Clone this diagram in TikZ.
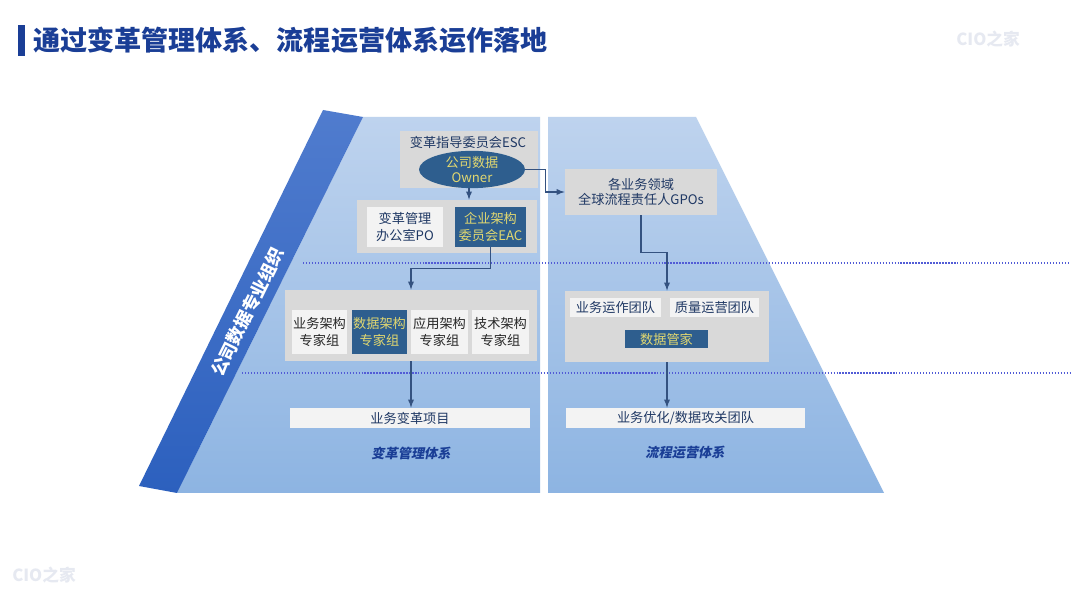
\documentclass[tikz,border=0pt]{standalone}
\usepackage{fontspec}
\setmainfont{Noto Sans CJK SC}
\newfontfamily\slantcjk[FakeSlant=0.2]{Noto Sans CJK SC}
\usepackage{xcolor}
\usepackage{tikz}
\usetikzlibrary{shapes.geometric}

\definecolor{titleblue}{RGB}{26,62,150}
\definecolor{markgray}{RGB}{230,233,241}
\definecolor{pyrtop}{RGB}{190,211,238}
\definecolor{pyrbottom}{RGB}{141,180,226}
\definecolor{bandtop}{RGB}{80,124,206}
\definecolor{bandbottom}{RGB}{44,96,190}
\definecolor{boxgray}{RGB}{217,217,217}
\definecolor{paleBox}{RGB}{243,243,243}
\definecolor{darkBox}{RGB}{46,94,142}
\definecolor{paleYellow}{RGB}{226,216,112}
\definecolor{textblue}{RGB}{31,56,100}
\definecolor{textgray}{RGB}{38,38,38}
\definecolor{lineblue}{RGB}{52,82,128}
\definecolor{dotblue}{RGB}{82,92,214}

\begin{document}
\begin{tikzpicture}
				\tikzstyle{graybox}=[fill=boxgray, inner sep=0pt]
				\tikzstyle{whitebox}=[fill=paleBox, text=textblue, inner sep=0pt, align=center, font=\fontsize{7.5}{9.5}\selectfont]
				\tikzstyle{expertbox}=[whitebox, text=textgray]
				\tikzstyle{darkbox}=[fill=darkBox, text=paleYellow, inner sep=0pt, align=center, font=\fontsize{7.5}{9.5}\selectfont]
				\tikzstyle{systemname}=[text=titleblue, font=\slantcjk\bfseries\fontsize{7.5}{9}\selectfont]
				\tikzstyle{watermark}=[text=markgray, font=\bfseries\fontsize{9.5}{11}\selectfont]
				\tikzstyle{divider}=[dotblue, densely dotted, line width=0.7pt]
				\tikzset{edge/.style = {->,> = latex, draw=lineblue, line width=0.6pt}}
				
				% page
				\fill[white] (0,0) rectangle (21.6,12.16);
				\useasboundingbox (0,0) rectangle (21.6,12.16);
				
				% title
				\fill[titleblue] (0.36,11.04) rectangle (0.50,11.66);
				\node[anchor=west, inner sep=0pt, text=titleblue, font=\bfseries\fontsize{15.4}{18}\selectfont](title) at (0.66,11.36) {通过变革管理体系、流程运营体系运作落地};
				\node[watermark](mark1) at (19.76,11.38) {CIO之家};
				\node[watermark](mark2) at (0.88,0.66) {CIO之家};
				
				% pyramid halves + band
				\shade[top color=pyrtop, bottom color=pyrbottom] (7.26,9.82) -- (10.80,9.82) -- (10.80,2.30) -- (3.54,2.30) -- cycle;
				\shade[top color=pyrtop, bottom color=pyrbottom] (10.96,9.82) -- (13.92,9.82) -- (17.68,2.30) -- (10.96,2.30) -- cycle;
				\shade[top color=bandtop, bottom color=bandbottom] (6.46,9.96) -- (7.26,9.82) -- (3.54,2.30) -- (2.78,2.44) -- cycle;
				\node[rotate=63.7, text=white, font=\bfseries\fontsize{10}{12}\selectfont](org) at (4.95,5.92) {公司数据专业组织};
				
				% dividers
				\draw[divider] (6.06,6.90) -- (21.36,6.90);
				\draw[divider] (4.84,4.70) -- (21.44,4.70);
				
				% change management side
				\node[graybox, minimum width=2.76cm, minimum height=1.14cm](esc) at (9.38,8.97) {};
				\node[text=textblue, inner sep=0pt, font=\fontsize{7.5}{9}\selectfont](esctitle) at (9.36,9.32) {变革指导委员会ESC};
				\node[ellipse, fill=darkBox, text=paleYellow, inner sep=0pt, minimum width=2.12cm, minimum height=0.54cm, align=center, font=\fontsize{7.5}{8.6}\selectfont](owner) at (9.44,8.77) {公司数据\\Owner};
				
				\node[graybox, minimum width=3.60cm, minimum height=1.06cm](ctr2) at (8.94,7.63) {};
				\node[whitebox, minimum width=1.52cm, minimum height=0.80cm](po) at (8.10,7.62) {变革管理\\办公室PO};
				\node[darkbox, minimum width=1.42cm, minimum height=0.80cm](eac) at (9.81,7.62) {企业架构\\委员会EAC};
				\draw[edge](esc.south) -- (esc.south |- ctr2.north);
				
				\node[graybox, minimum width=5.04cm, minimum height=1.42cm](ctr3) at (8.22,5.65) {};
				\node[expertbox, minimum width=1.10cm, minimum height=0.88cm](ba) at (6.39,5.52) {业务架构\\专家组};
				\node[darkbox, minimum width=1.10cm, minimum height=0.88cm](da) at (7.59,5.52) {数据架构\\专家组};
				\node[expertbox, minimum width=1.14cm, minimum height=0.88cm](aa) at (8.79,5.52) {应用架构\\专家组};
				\node[expertbox, minimum width=1.14cm, minimum height=0.88cm](ta) at (10.01,5.52) {技术架构\\专家组};
				\draw[edge](eac.south) -- ++(0,-0.42) -| (ctr3.north);
				
				\node[whitebox, minimum width=4.80cm, minimum height=0.40cm](proj) at (8.20,3.80) {业务变革项目};
				\draw[edge](ctr3.south) -- (ctr3.south |- proj.north);
				\node[systemname](chg) at (8.22,3.10) {变革管理体系};
				
				% process operation side
				\node[graybox, text=textblue, align=center, minimum width=3.04cm, minimum height=0.92cm, font=\fontsize{7.5}{9}\selectfont](gpo) at (12.82,8.32) {各业务领域\\全球流程责任人GPOs};
				\draw[edge](owner.east) -- ++(0.4,0) |- (gpo.west);
				
				\node[graybox, minimum width=4.08cm, minimum height=1.42cm](ctr4) at (13.34,5.63) {};
				\node[whitebox, minimum width=1.82cm, minimum height=0.38cm](ops) at (12.31,6.01) {业务运作团队};
				\node[whitebox, minimum width=1.78cm, minimum height=0.38cm](qual) at (14.29,6.01) {质量运营团队};
				\node[darkbox, minimum width=1.66cm, minimum height=0.36cm](steward) at (13.33,5.38) {数据管家};
				\draw[edge](gpo.south) -- ++(0,-0.74) -| (ctr4.north);
				
				\node[whitebox, minimum width=4.78cm, minimum height=0.40cm](opt) at (13.71,3.80) {业务优化/数据攻关团队};
				\draw[edge](ctr4.south) -- (ctr4.south |- opt.north);
				\node[systemname](proc) at (13.70,3.10) {流程运营体系};
\end{tikzpicture}
\end{document}
